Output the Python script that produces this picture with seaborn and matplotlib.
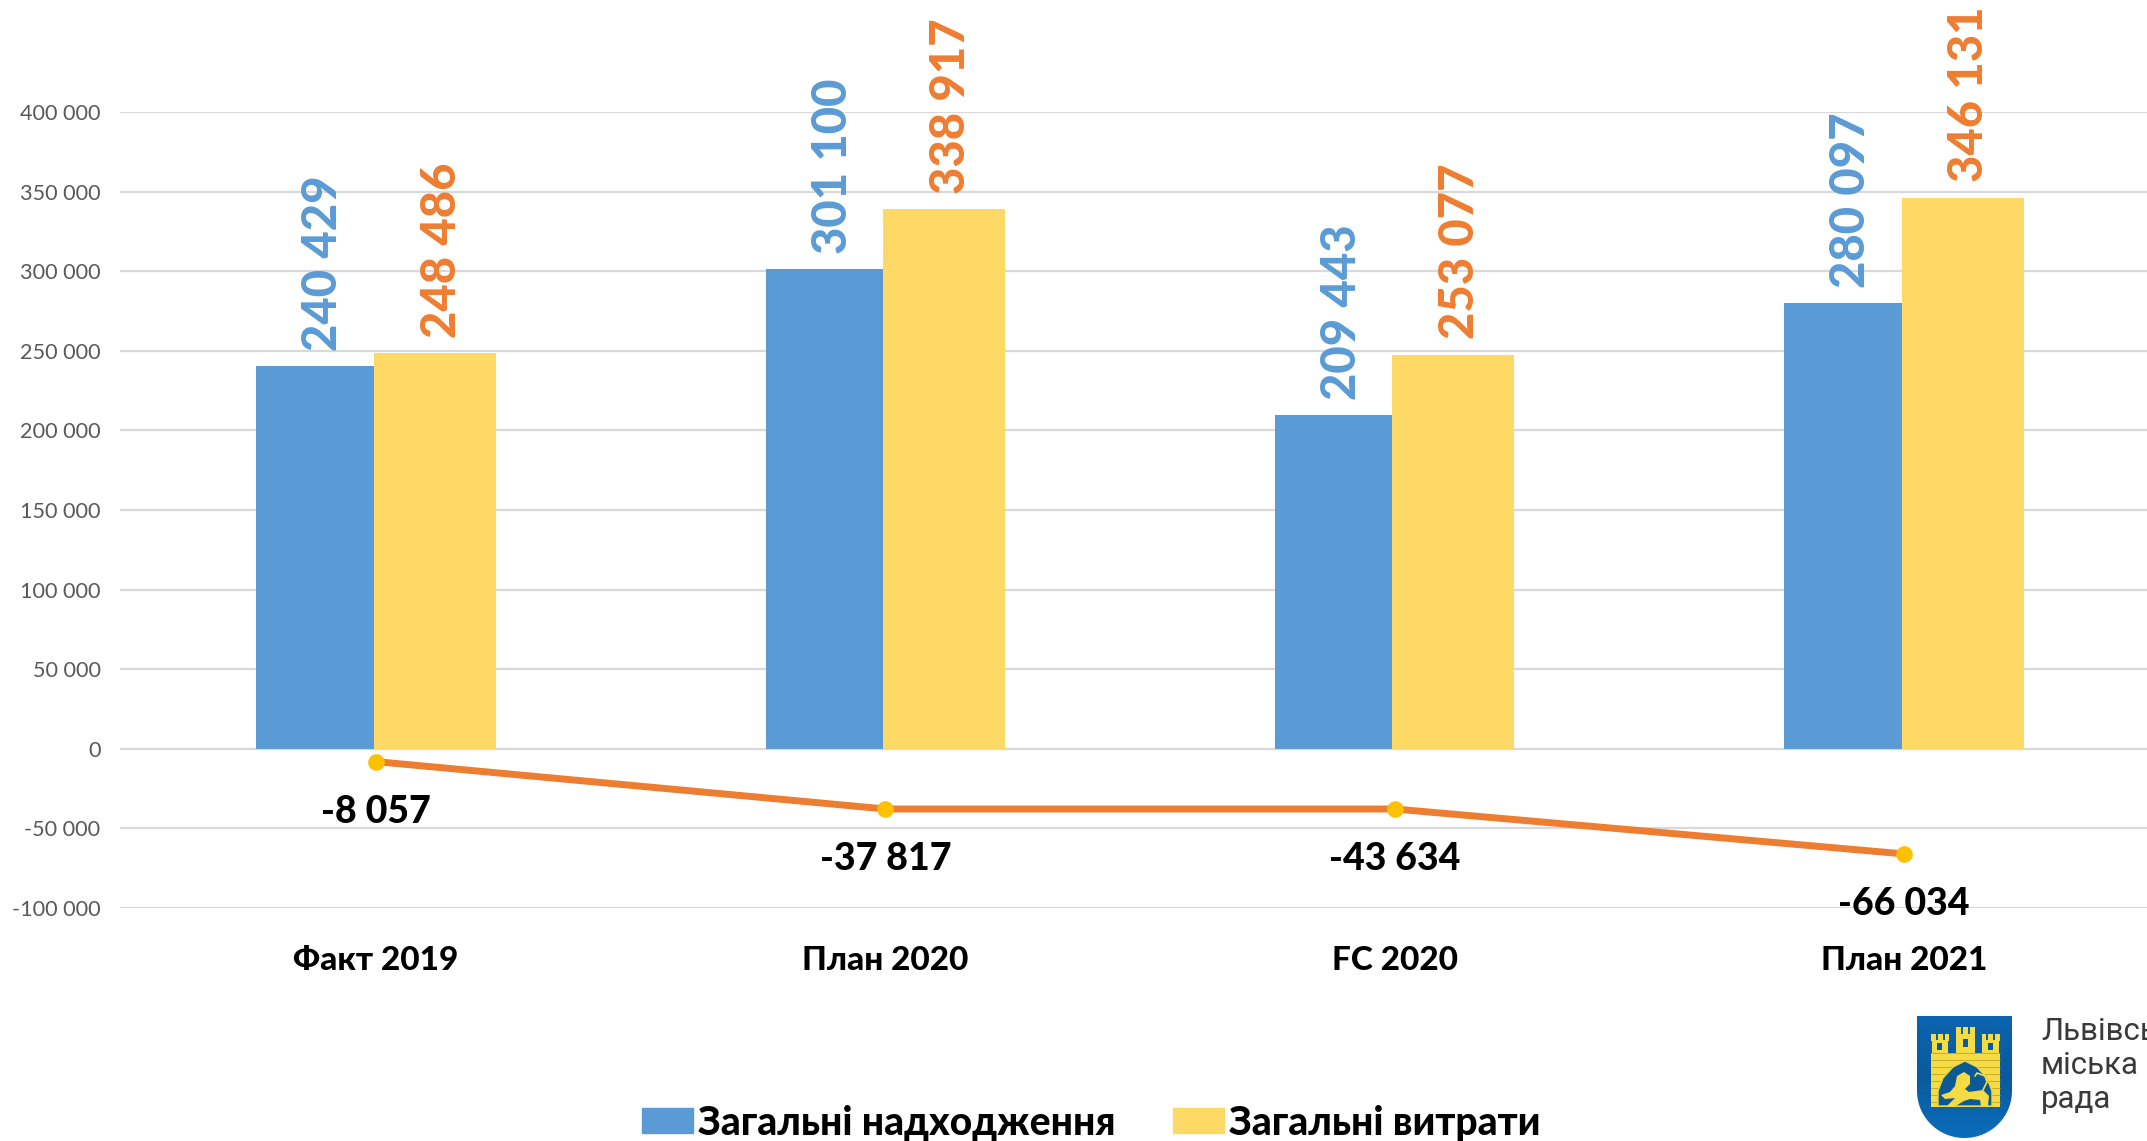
import numpy as np
import pandas as pd
import seaborn as sns
import matplotlib.pyplot as plt
from matplotlib.colors import LinearSegmentedColormap
from matplotlib.patches import Patch, Polygon, Rectangle

# Chart values
categories = ['Факт 2019', 'План 2020', 'FC 2020', 'План 2021']
series_names = ['Загальні надходження', 'Загальні витрати']
income_bars = [240429, 301100, 209443, 280097]
expense_bars = [248486, 338917, 247600, 346131]
income_labels = ['240 429', '301 100', '209 443', '280 097']
expense_labels = ['248 486', '338 917', '253 077', '346 131']
balance_line = [-8057, -37817, -37817, -66034]
balance_labels = ['-8 057', '-37 817', '-43 634', '-66 034']
y_ticks = [-100000, -50000, 0, 50000, 100000, 150000, 200000, 250000, 300000, 350000, 400000]

BLUE = '#5B9BD5'
YELLOW = '#FFD966'
ORANGE = '#ED7D31'

W, H = 2147, 1141

sns.set_theme(style='white')
plt.rcParams['font.family'] = ['Lato', 'Open Sans', 'DejaVu Sans']

fig = plt.figure(figsize=(W / 100, H / 100), dpi=100, facecolor='white')
ax = fig.add_axes([120 / W, 1 - 908 / H, 1 - 120 / W, (908 - 112) / H])

# Long table for seaborn
bars = pd.DataFrame({
    'category': categories * 2,
    'series': [series_names[0]] * 4 + [series_names[1]] * 4,
    'value': income_bars + expense_bars,
})
sns.barplot(data=bars, x='category', y='value', hue='series', order=categories,
            hue_order=series_names, palette=[BLUE, YELLOW], width=0.47,
            saturation=1, legend=False, ax=ax, zorder=2, linewidth=0, edgecolor='none')

# The yellow bars are a little wider than the blue ones in the original
for rect in ax.containers[0]:
    rect.set_width(rect.get_width() - 0.005)
for rect in ax.containers[1]:
    rect.set_x(rect.get_x() - 0.005)
    rect.set_width(rect.get_width() + 0.005)

# Balance line on the same positions as the categories
line = pd.DataFrame({'pos': range(len(categories)), 'value': balance_line})
sns.lineplot(data=line, x='pos', y='value', color=ORANGE, linewidth=5, marker='o',
             markersize=12, markerfacecolor='#FFC000', markeredgecolor='#FFC000',
             markeredgewidth=0, ax=ax, zorder=3, clip_on=False)

# Value labels above the bars
for i in range(len(categories)):
    ax.annotate(income_labels[i], (i - 0.1175, income_bars[i]), xytext=(5, 11),
                textcoords='offset points', rotation=90, ha='center', va='bottom',
                fontsize=34, fontweight='black', color=BLUE, annotation_clip=False)
    ax.annotate(expense_labels[i], (i + 0.1175, expense_bars[i]), xytext=(4, 11),
                textcoords='offset points', rotation=90, ha='center', va='bottom',
                fontsize=34, fontweight='black', color=ORANGE, annotation_clip=False)
    ax.annotate(balance_labels[i], (i, balance_line[i]), xytext=(0, -36),
                textcoords='offset points', ha='center', va='center',
                fontsize=27, fontweight='black', color='black', annotation_clip=False)

ax.set_xlim(-0.503, 3.477)
ax.set_ylim(-100000, 400000)
ax.set_yticks(y_ticks)
ax.set_yticklabels([f'{v:,}'.replace(',', ' ') for v in y_ticks], fontsize=15.6, color='#595959')
ax.set_xticks(range(len(categories)))
ax.set_xticklabels(categories, fontsize=24, fontweight='black', color='black')
ax.tick_params(axis='x', length=0, pad=27)
ax.tick_params(axis='y', length=0, pad=14)
ax.set_xlabel('')
ax.set_ylabel('')
ax.grid(axis='y', color='#D9D9D9', linewidth=1.6, zorder=0)
ax.set_axisbelow(True)
sns.despine(ax=ax, left=True, bottom=True, top=True, right=True)

handles = [Patch(color=BLUE, label=series_names[0]), Patch(color=YELLOW, label=series_names[1])]
fig.legend(handles=handles, loc='center', bbox_to_anchor=(1091 / W, 1 - 1123 / H), ncol=2,
           frameon=False, prop={'size': 28.1, 'weight': 'black'}, handlelength=1.32,
           handleheight=0.6, handletextpad=0.12, columnspacing=1.47, labelcolor='black')

# City logo: shield with castle and lion, then the name
logo = fig.add_axes([1917 / W, 1 - 1138 / H, 95 / W, 122 / H])
logo.set_xlim(0, 95)
logo.set_ylim(122, 0)
logo.axis('off')
t = np.linspace(0, np.pi / 2, 30)
outline = [(0, 0), (95, 0), (95, 75)]
outline += [(47.5 + 47.5 * np.cos(a), 75 + 47 * np.sin(a)) for a in t]
outline += [(47.5 - 47.5 * np.sin(a), 75 + 47 * np.cos(a)) for a in t]
shield = Polygon(outline, closed=True, facecolor='none', edgecolor='none')
logo.add_patch(shield)
shield_cmap = LinearSegmentedColormap.from_list('shield', ['#0A64AE', '#0A5A9C', '#0A6DBB'])
gradient = logo.imshow(np.linspace(0, 1, 100).reshape(-1, 1), extent=(0, 95, 122, 0),
                       aspect='auto', cmap=shield_cmap)
gradient.set_clip_path(shield)

GOLD = '#F5DC45'
DARK = '#0B5A96'
castle = [(14, 37, 69, 53), (15, 24, 16, 14), (39, 18, 19, 20), (65, 24, 17, 14),
          (14, 18, 5, 7), (21, 18, 5, 7), (28, 18, 4, 7), (39, 11, 5, 8), (46, 11, 5, 8),
          (53, 11, 5, 8), (65, 18, 4, 7), (71, 18, 5, 7), (78, 18, 5, 7)]
for x, y, w, h in castle:
    logo.add_patch(Rectangle((x, y), w, h, facecolor=GOLD, edgecolor='none'))
# Windows and wall joints
for x, y, w, h in [(20, 27, 5, 7), (46, 23, 5, 8), (71, 27, 5, 7), (33, 32, 3, 5), (60, 32, 3, 5)]:
    logo.add_patch(Rectangle((x, y), w, h, facecolor=DARK, edgecolor='none'))
for y in [37, 44, 51, 58, 65, 72, 79, 86]:
    logo.plot([14, 83], [y, y], color='#B59A22', linewidth=0.5, zorder=2)
arch = [(21, 90), (21, 75), (26, 62), (36, 51), (48, 45), (60, 51), (70, 62), (75, 75), (75, 90)]
logo.add_patch(Polygon(arch, closed=True, facecolor=DARK, edgecolor='#EFD53F', linewidth=1, zorder=3))
logo.add_patch(Rectangle((14, 90), 69, 1, facecolor=GOLD, edgecolor='none'))
lion = [(24, 79), (33, 76), (38, 70), (40, 60), (47, 56), (53, 60), (53, 68), (48, 73), (52, 76),
        (66, 74), (72, 80), (71, 90), (64, 90), (63, 84), (53, 83), (47, 85), (37, 91),
        (30, 90), (38, 82), (28, 83)]
logo.add_patch(Polygon(lion, closed=True, facecolor=GOLD, edgecolor='none', zorder=4))
logo.plot([66, 70, 68, 60, 58], [74, 66, 60, 57, 60], color=GOLD, linewidth=1.2, zorder=4)

for name, y in zip(['Львівська', 'міська', 'рада'], [1032, 1066, 1100]):
    fig.text(2041 / W, 1 - y / H, name, fontsize=22.5, color='#3A3A3A', va='center', ha='left',
             family=['Roboto', 'DejaVu Sans'])

fig.savefig('out.png', dpi=100, facecolor='white')
